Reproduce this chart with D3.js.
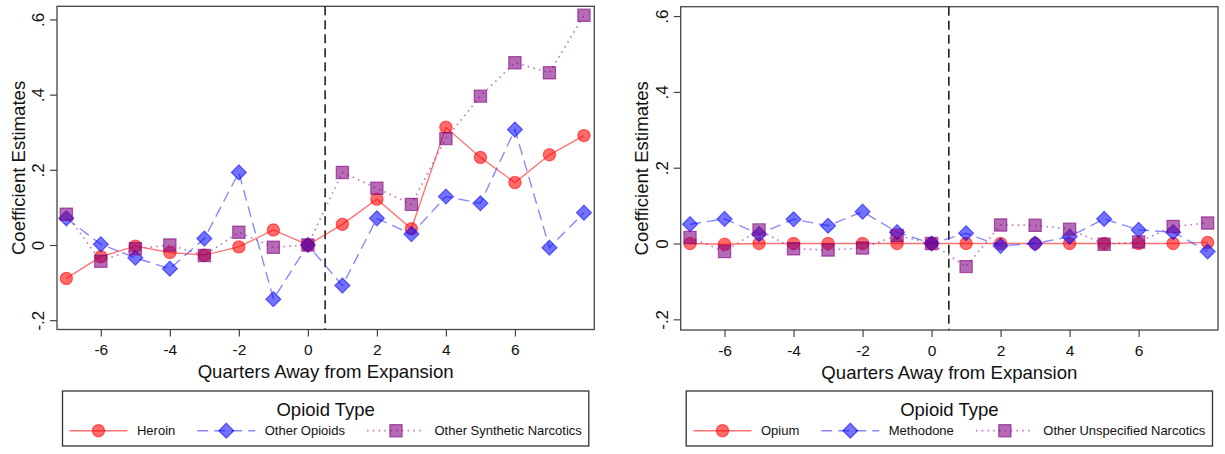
<!DOCTYPE html>
<html>
<head>
<meta charset="utf-8">
<script src="https://cdn.jsdelivr.net/npm/d3@7"></script>
<style>
  body { margin: 0; background: #fff; }
  svg { display: block; }
  text { font-family: "Liberation Sans", Arial, sans-serif; fill: #111; }
</style>
</head>
<body>
<svg id="chart" width="1225" height="454"></svg>
<script>
// Event-study coefficients by quarter relative to the expansion
const quarters = [-7, -6, -5, -4, -3, -2, -1, 0, 1, 2, 3, 4, 5, 6, 7, 8];

// Left panel series
const heroin         = [-0.089, -0.031, -0.003, -0.020, -0.027, -0.005, 0.040, 0, 0.055, 0.122, 0.043, 0.313, 0.233, 0.166, 0.240, 0.291];
const otherOpioids   = [0.071, 0.002, -0.034, -0.063, 0.017, 0.193, -0.144, 0, -0.108, 0.071, 0.029, 0.129, 0.111, 0.307, -0.007, 0.086];
const otherSynthetic = [0.082, -0.043, -0.010, 0.000, -0.028, 0.034, -0.006, 0, 0.193, 0.151, 0.108, 0.283, 0.396, 0.485, 0.458, 0.611];

// Right panel series
const opium            = [0.000, -0.002, 0.000, 0.000, 0.000, 0.000, 0.000, 0, 0.000, 0.000, 0.000, 0.000, 0.000, 0.000, 0.000, 0.003];
const methodone        = [0.051, 0.065, 0.025, 0.064, 0.047, 0.084, 0.030, 0, 0.027, -0.006, 0.000, 0.018, 0.065, 0.036, 0.030, -0.021];
const otherUnspecified = [0.016, -0.021, 0.036, -0.014, -0.017, -0.012, 0.021, 0, -0.061, 0.049, 0.048, 0.038, -0.002, 0.004, 0.045, 0.054];

const leftNames  = ["Heroin", "Other Opioids", "Other Synthetic Narcotics"];
const rightNames = ["Opium", "Methodone", "Other Unspecified Narcotics"];

const xTickValues = [-6, -4, -2, 0, 2, 4, 6];
const xTickLabels = ["-6", "-4", "-2", "0", "2", "4", "6"];
const yTickValues = [-0.2, 0, 0.2, 0.4, 0.6];
const yTickLabels = ["-.2", "0", ".2", ".4", ".6"];

const xTitle = "Quarters Away from Expansion";
const yTitle = "Coefficient Estimates";
const legendTitle = "Opioid Type";
const expansionAt = 0.5;

// Series appearance: red circles / solid, blue diamonds / long dash, purple squares / dots
const seriesStyles = [
  { shape: "circle",  fill: "rgba(255,0,0,0.58)",   stroke: "rgba(255,0,0,0.55)",   line: "rgba(255,0,0,0.55)",   dash: null,    width: 1.4 },
  { shape: "diamond", fill: "rgba(0,0,255,0.55)",   stroke: "rgba(0,0,255,0.55)",   line: "rgba(40,40,255,0.55)", dash: "11,6",  width: 1.4 },
  { shape: "square",  fill: "rgba(128,0,128,0.58)", stroke: "rgba(128,0,128,0.6)",  line: "rgba(150,40,160,0.6)", dash: "1.6,4.2", width: 1.7 }
];

const panels = [
  { left: 57,    right: 594.3, top: 6.3, bottom: 329.5, yDomain: [-0.2248, 0.635],
    names: leftNames,  series: [heroin, otherOpioids, otherSynthetic] },
  { left: 680.7, right: 1218,  top: 6.7, bottom: 330,   yDomain: [-0.2281, 0.6247],
    names: rightNames, series: [opium, methodone, otherUnspecified] }
];

const xDomain = [-7.27, 8.3];
const svg = d3.select("#chart");

function markerPath(shape) {
  if (shape === "circle")  return d3.symbol(d3.symbolCircle, 118)();
  if (shape === "diamond") return d3.symbol(d3.symbolSquare, 112)();
  return d3.symbol(d3.symbolSquare, 150)();
}
function markerTransform(shape, px, py) {
  return shape === "diamond" ? `translate(${px},${py}) rotate(45)` : `translate(${px},${py})`;
}

panels.forEach(p => {
  const x = d3.scaleLinear().domain(xDomain).range([p.left, p.right]);
  const y = d3.scaleLinear().domain(p.yDomain).range([p.bottom, p.top]);
  const g = svg.append("g");

  // Frame
  g.append("rect")
    .attr("x", p.left).attr("y", p.top)
    .attr("width", p.right - p.left).attr("height", p.bottom - p.top)
    .attr("fill", "none").attr("stroke", "#444").attr("stroke-width", 1.3);

  // X axis
  const xa = g.append("g").attr("transform", `translate(0,${p.bottom})`)
    .call(d3.axisBottom(x).tickValues(xTickValues).tickSize(7).tickSizeOuter(0)
      .tickFormat((d, i) => xTickLabels[i]));
  xa.select(".domain").remove();
  xa.selectAll("line").attr("stroke", "#444").attr("stroke-width", 1.2);
  xa.selectAll("text").attr("y", 25.5).attr("dy", null)
    .style("font-size", "15.5px").style("font-family", "'Liberation Sans', Arial, sans-serif").attr("fill", "#111");

  // Y axis with rotated labels
  const ya = g.append("g").attr("transform", `translate(${p.left},0)`)
    .call(d3.axisLeft(y).tickValues(yTickValues).tickSize(7).tickSizeOuter(0)
      .tickFormat((d, i) => yTickLabels[i]));
  ya.select(".domain").remove();
  ya.selectAll("line").attr("stroke", "#444").attr("stroke-width", 1.2);
  ya.selectAll("text").attr("x", null).attr("dy", null)
    .attr("transform", "translate(-12.8,0) rotate(-90)")
    .attr("text-anchor", "middle")
    .style("font-size", "17px").style("font-family", "'Liberation Sans', Arial, sans-serif").attr("fill", "#111");

  // Axis titles
  g.append("text")
    .attr("x", (p.left + p.right) / 2).attr("y", p.bottom + 48.5)
    .attr("text-anchor", "middle").style("font-size", "18.6px")
    .text(xTitle);
  g.append("text")
    .attr("transform", `translate(${p.left - 32.5},${(p.top + p.bottom) / 2}) rotate(-90)`)
    .attr("text-anchor", "middle").style("font-size", "18.6px")
    .text(yTitle);

  // Expansion marker
  g.append("line")
    .attr("x1", x(expansionAt)).attr("x2", x(expansionAt))
    .attr("y1", p.top).attr("y2", p.bottom)
    .attr("stroke", "#222").attr("stroke-width", 1.6).attr("stroke-dasharray", "9,5");

  // Series: connecting line, then markers
  p.series.forEach((vals, si) => {
    const st = seriesStyles[si];
    const pts = quarters.map((q, i) => ({ q, v: vals[i] }));
    g.append("path")
      .datum(pts)
      .attr("fill", "none").attr("stroke", st.line).attr("stroke-width", st.width)
      .attr("stroke-dasharray", st.dash)
      .attr("d", d3.line().x(d => x(d.q)).y(d => y(d.v)));
    g.append("g").selectAll("path").data(pts).join("path")
      .attr("d", markerPath(st.shape))
      .attr("transform", d => markerTransform(st.shape, x(d.q), y(d.v)))
      .attr("fill", st.fill).attr("stroke", st.stroke).attr("stroke-width", 1.2);
  });

  // Legend
  const lgLeft = p.left + 5.5, lgRight = p.right - 5.5;
  const lgTop = 391, lgBottom = 446;
  const lg = g.append("g");
  lg.append("rect")
    .attr("x", lgLeft).attr("y", lgTop)
    .attr("width", lgRight - lgLeft).attr("height", lgBottom - lgTop)
    .attr("fill", "#fff").attr("stroke", "#333").attr("stroke-width", 1.3);
  lg.append("text")
    .attr("x", (lgLeft + lgRight) / 2).attr("y", 416)
    .attr("text-anchor", "middle").style("font-size", "18.5px")
    .text(legendTitle);

  const keyW = 58, keyGap = 9.5, itemGap = 22, rowY = 430.7;
  const labels = p.names.map(n => lg.append("text").style("font-size", "13px").attr("y", rowY + 4.6).text(n));
  const widths = labels.map(t => t.node().getComputedTextLength());
  const total = d3.sum(widths) + p.names.length * (keyW + keyGap) + (p.names.length - 1) * itemGap;
  let cx = (lgLeft + lgRight) / 2 - total / 2;
  p.names.forEach((n, i) => {
    const st = seriesStyles[i];
    lg.append("line")
      .attr("x1", cx).attr("x2", cx + keyW).attr("y1", rowY).attr("y2", rowY)
      .attr("stroke", st.line).attr("stroke-width", st.width).attr("stroke-dasharray", st.dash);
    lg.append("path")
      .attr("d", markerPath(st.shape))
      .attr("transform", markerTransform(st.shape, cx + keyW / 2, rowY))
      .attr("fill", st.fill).attr("stroke", st.stroke).attr("stroke-width", 1.2);
    labels[i].attr("x", cx + keyW + keyGap);
    cx += keyW + keyGap + widths[i] + itemGap;
  });
});
</script>
</body>
</html>
